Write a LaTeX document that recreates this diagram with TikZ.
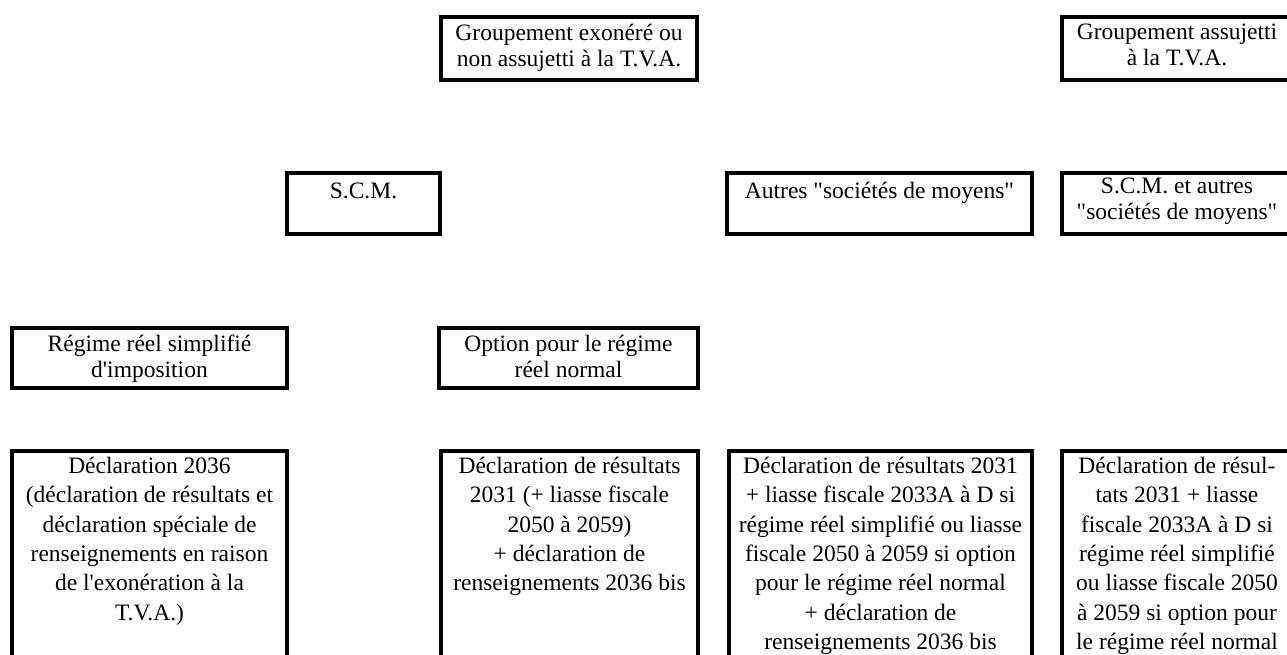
\documentclass[tikz,border=0pt]{standalone}
\usepackage{fontspec}
\newfontfamily\lib{Liberation Serif}
\begin{document}
\begin{tikzpicture}[x=1pt,y=-1pt,
  box/.style={draw, line width=3.5pt, inner sep=0pt, outer sep=0pt, anchor=north west},
  txt/.style={font=\lib\fontsize{23.5}{#1}\selectfont, align=center, anchor=north, inner sep=0pt,
    execute at begin node={\rule{0pt}{20pt}}},
  txt/.default=29.3]
\clip (0,0) rectangle (1287,655);
% row 1
\node[box, minimum width=256pt, minimum height=63pt] (b1) at (441,17) {};
\node[txt=26] (b1t) at ([yshift=-7pt]b1.north) {Groupement exonéré ou\\non assujetti à la T.V.A.};
\node[box, minimum width=232pt, minimum height=63pt] (b2) at (1062,17) {};
\node[txt=26] (b2t) at ([yshift=-7pt,xshift=-1pt]b2.north) {Groupement assujetti\\à la T.V.A.};
% row 2
\node[box, minimum width=153pt, minimum height=61pt] (scm) at (287,173) {};
\node[txt=26] (scmt) at ([yshift=-5pt]scm.north) {S.C.M.};
\node[box, minimum width=305pt, minimum height=61pt] (aut) at (727,173) {};
\node[txt=26] (autt) at ([yshift=-5pt]aut.north) {Autres "sociétés de moyens"};
\node[box, minimum width=232pt, minimum height=61pt] (scma) at (1062,173) {};
\node[txt=26] (scmat) at ([yshift=-5pt,xshift=-1pt]scma.north) {S.C.M. et autres\\"sociétés de moyens"};
% row 3
\node[box, minimum width=275pt, minimum height=60pt] (reg) at (12,328) {};
\node[txt=26] (regt) at ([yshift=-7pt]reg.north) {Régime réel simplifié\\d'imposition};
\node[box, minimum width=259pt, minimum height=60pt] (opt) at (439,328) {};
\node[txt=26] (optt) at ([yshift=-7pt]opt.north) {Option pour le régime\\réel normal};
% row 4
\node[box, minimum width=275pt, minimum height=260pt] (d1) at (12,451) {};
\node[txt] (d1t) at ([yshift=-6pt]d1.north) {Déclaration 2036\\(déclaration de résultats et\\déclaration spéciale de\\renseignements en raison\\de l'exonération à la\\T.V.A.)};
\node[box, minimum width=257pt, minimum height=260pt] (d2) at (441,451) {};
\node[txt] (d2t) at ([yshift=-6pt]d2.north) {Déclaration de résultats\\2031 (+ liasse fiscale\\2050 à 2059)\\+ déclaration de\\renseignements 2036 bis};
\node[box, minimum width=303pt, minimum height=260pt] (d3) at (729,451) {};
\node[txt] (d3t) at ([yshift=-6pt]d3.north) {Déclaration de résultats 2031\\+ liasse fiscale 2033A à D si\\régime réel simplifié ou liasse\\fiscale 2050 à 2059 si option\\pour le régime réel normal\\+ déclaration de\\renseignements 2036 bis};
\node[box, minimum width=232pt, minimum height=260pt] (d4) at (1062,451) {};
\node[txt] (d4t) at ([yshift=-6pt,xshift=-1pt]d4.north) {Déclaration de résul-\\tats 2031 + liasse\\fiscale 2033A à D si\\régime réel simplifié\\ou liasse fiscale 2050\\à 2059 si option pour\\le régime réel normal};
\end{tikzpicture}
\end{document}
